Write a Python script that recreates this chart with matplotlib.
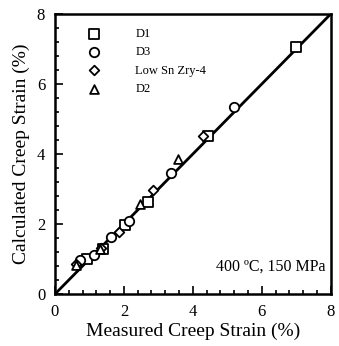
"""Measured vs calculated creep strain, 400 C / 150 MPa"""

import matplotlib

matplotlib.use("Agg")
from matplotlib import pyplot as plt
from matplotlib.ticker import MultipleLocator

plt.rcParams["font.family"] = ["Liberation Serif", "DejaVu Serif"]

# ---------------------------------------------------------------------------
# Data
# ---------------------------------------------------------------------------

d1_measured = [0.92, 1.40, 2.02, 2.70, 4.45, 6.98]
d1_calculated = [1.01, 1.30, 1.98, 2.63, 4.52, 7.05]

d3_measured = [0.72, 1.12, 1.62, 2.15, 3.37, 5.20]
d3_calculated = [0.97, 1.13, 1.62, 2.09, 3.47, 5.33]

lowsn_measured = [0.62, 1.35, 1.86, 2.85, 4.30]
lowsn_calculated = [0.85, 1.32, 1.78, 2.97, 4.52]

d2_measured = [0.60, 1.30, 2.46, 3.57]
d2_calculated = [0.82, 1.30, 2.58, 3.85]

parity_line = [0, 8]

# ---------------------------------------------------------------------------
# Plot
# ---------------------------------------------------------------------------

fig = plt.figure(figsize=(3.39, 3.46), dpi=100)
ax = fig.add_axes([0.162, 0.150, 0.814, 0.810])

ax.plot(parity_line, parity_line, color="black", lw=2.0, zorder=2)

common = dict(facecolor="white", edgecolor="black", linewidths=1.3, zorder=3)
ax.scatter(d1_measured, d1_calculated, marker="s", s=46, label="D1", **common)
ax.scatter(d3_measured, d3_calculated, marker="o", s=46, label="D3", **common)
ax.scatter(lowsn_measured, lowsn_calculated, marker="D", s=24,
           label="Low Sn Zry-4", **common)
ax.scatter(d2_measured, d2_calculated, marker="^", s=40, label="D2", **common)

ax.set_xlim(0, 8)
ax.set_ylim(0, 8)
ax.xaxis.set_major_locator(MultipleLocator(2))
ax.yaxis.set_major_locator(MultipleLocator(2))
ax.xaxis.set_minor_locator(MultipleLocator(0.4))
ax.yaxis.set_minor_locator(MultipleLocator(0.4))
ax.tick_params(which="both", direction="in", top=False, right=False,
               width=1.2, labelsize=12)
ax.tick_params(which="major", length=6, pad=7)
ax.tick_params(which="minor", length=3)
for spine in ax.spines.values():
    spine.set_linewidth(1.8)

ax.set_xlabel("Measured Creep Strain (%)", fontsize=14, labelpad=2)
ax.set_ylabel("Calculated Creep Strain (%)", fontsize=14, labelpad=5)

ax.text(7.85, 0.55, "400 ºC, 150 MPa", ha="right", va="bottom", fontsize=11.5)

ax.legend(loc="upper left", bbox_to_anchor=(0.065, 0.98), frameon=False,
          fontsize=9, handletextpad=2.3, labelspacing=0.5, borderpad=0.2)

fig.savefig("out.png", dpi=100)
plt.close(fig)
